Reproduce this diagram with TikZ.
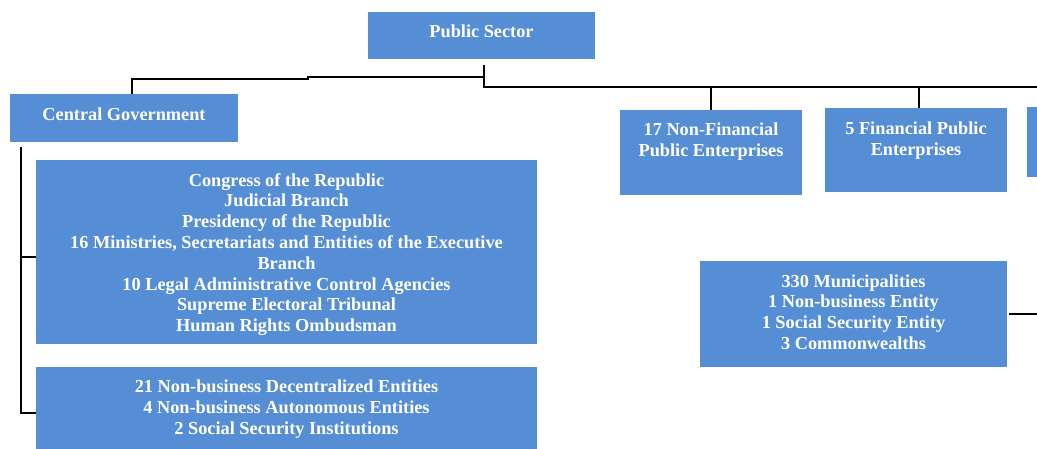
\documentclass[tikz,border=0pt]{standalone}
\usepackage{fontspec}
\setmainfont{Liberation Serif}
\definecolor{boxblue}{HTML}{558ED5}
\tikzset{
  box/.style={fill=boxblue, draw=none, inner sep=0pt},
  txt/.style={text=white, font=\fontsize{18.3}{20.8}\selectfont\bfseries, align=center, inner sep=0pt},
  link/.style={line width=1.8pt, black},
}
\begin{document}
\begin{tikzpicture}[x=1pt, y=-1pt]
  \useasboundingbox (0,0) rectangle (1037,449);
  \clip (0,0) rectangle (1037,449);
  % Boxes
  \node[box, minimum width=227, minimum height=47] (ps) at (481.5,35.5) {};
  \node[box, minimum width=228, minimum height=48] (cg) at (124,118) {};
  \node[box, minimum width=501, minimum height=184] (cr) at (286.5,252) {};
  \node[box, minimum width=501, minimum height=82] (nb) at (286.5,408) {};
  \node[box, minimum width=182, minimum height=85] (nfe) at (711,152.5) {};
  \node[box, minimum width=182, minimum height=84] (fpe) at (916,150) {};
  \node[box, minimum width=182, minimum height=70] (other) at (1118,142) {};
  \node[box, minimum width=307, minimum height=106] (muni) at (853.5,314) {};
  % Labels
  \node[txt] (pstext) at ([yshift=4]ps.center) {Public Sector};
  \node[txt] (cgtext) at ([yshift=4]cg.center) {Central Government};
  \node[txt] (crtext) at ([yshift=-2.5]cr.center) {Congress of the Republic\\Judicial Branch\\Presidency of the Republic\\16 Ministries, Secretariats and Entities of the Executive\\Branch\\10 Legal Administrative Control Agencies\\Supreme Electoral Tribunal\\Human Rights Ombudsman};
  \node[txt] (nbtext) at ([yshift=-1]nb.center) {21 Non-business Decentralized Entities\\4 Non-business Autonomous Entities\\2 Social Security Institutions};
  \node[txt] (nfetext) at ([yshift=11]nfe.center) {17 Non-Financial\\Public Enterprises};
  \node[txt] (fpetext) at ([yshift=9]fpe.center) {5 Financial Public\\Enterprises};
  \node[txt] (munitext) at ([yshift=2]muni.center) {330 Municipalities\\1 Non-business Entity\\1 Social Security Entity\\3 Commonwealths};
  % Connectors
  \coordinate (hub) at (484,65);
  \coordinate (railend) at (1045,87);
  \draw[link] (hub) -- (hub |- railend) -- (railend);
  \draw[link] (484,77) -- (308,77) -- (308,79) -| ([xshift=8]cg.north);
  \draw[link] (nfe.north |- railend) -- (nfe.north);
  \draw[link] ([xshift=3]fpe.north |- railend) -- ([xshift=3]fpe.north);
  \coordinate (spine) at (21,147);
  \draw[link] (spine) |- ([yshift=-5]cr.west);
  \draw[link] (spine) |- ([yshift=-5]nb.west);
  \draw[link] ([xshift=2]muni.east) -- (muni.east -| railend);
\end{tikzpicture}
\end{document}
